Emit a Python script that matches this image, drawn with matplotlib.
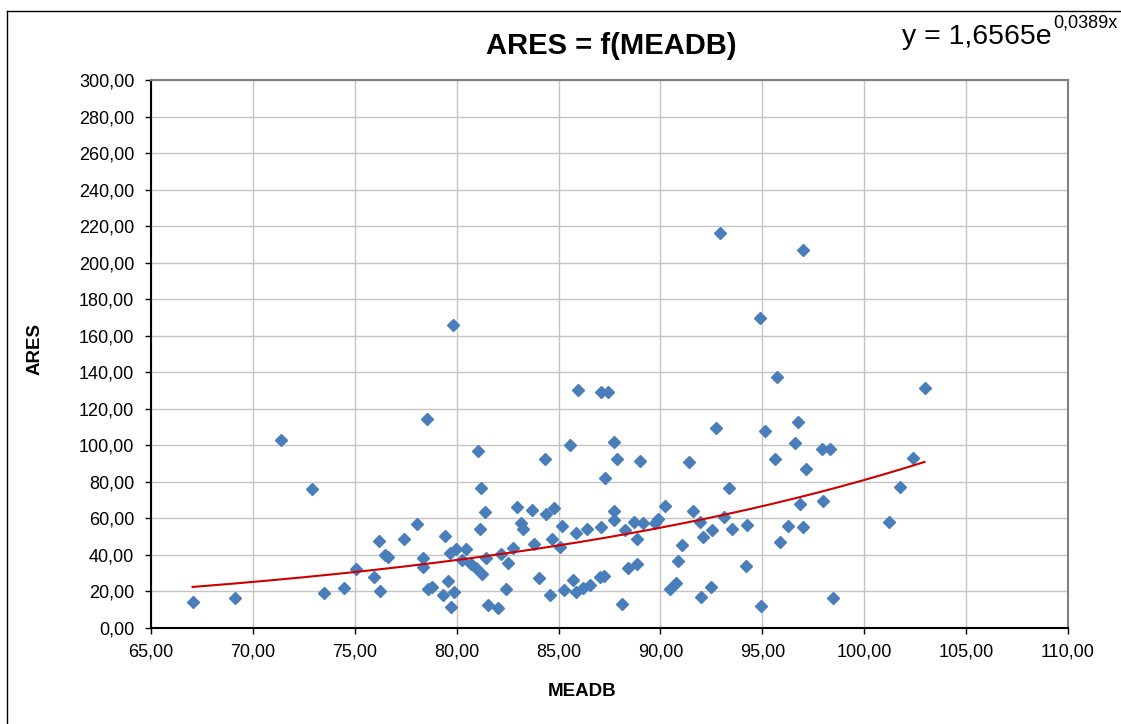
import matplotlib
matplotlib.use('Agg')
import matplotlib.pyplot as plt
import numpy as np
from matplotlib.ticker import FuncFormatter, MultipleLocator
from matplotlib.lines import Line2D

# ---- data ----
meadb = [67.04, 69.12, 71.40, 72.91, 73.48, 74.48, 75.05, 75.93, 76.26, 76.18,
         76.50, 76.62, 77.40, 78.04, 78.56, 78.35, 78.35, 78.60, 78.81,
         79.43, 79.56, 79.33, 79.89, 79.71, 79.66, 79.95, 80.44, 80.28, 80.72,
         80.96, 81.24, 81.45, 82.16, 82.52, 82.78, 83.81, 84.66, 85.06, 81.54,
         82.03, 82.44, 84.04, 84.56, 85.28, 85.70, 85.86, 86.19, 86.52, 87.01,
         87.21, 88.12, 88.42, 88.87, 90.47, 90.77, 91.98, 92.50, 81.13, 83.14,
         83.24, 85.16, 85.85, 86.40, 87.08, 87.70, 88.25, 88.69, 89.13, 89.75,
         89.90, 88.87, 91.96, 92.11, 92.51, 93.14, 93.53, 94.26, 91.08, 90.88,
         94.20, 81.41, 82.94, 83.68, 84.40, 84.77, 87.73, 90.21, 91.62, 81.19,
         93.37, 87.29, 81.04, 84.35, 85.56, 87.70, 87.89, 89.02, 91.41, 92.73,
         85.93, 87.06, 87.45,
         95.72, 102.96, 96.73, 95.15, 96.60, 97.92, 98.31, 95.60, 102.40, 97.16,
         101.75, 96.86, 97.97, 101.23, 96.27, 96.98, 95.85, 94.95, 98.48,
         92.93, 97.00, 79.84, 94.87]
ares = [14.1, 16.6, 102.9, 75.9, 19.0, 21.9, 32.1, 27.9, 20.3, 47.8,
        40.0, 38.9, 48.9, 56.8, 114.6, 38.2, 33.6, 21.2, 22.6,
        50.5, 25.9, 18.1, 19.5, 11.7, 40.9, 43.1, 43.1, 37.2, 34.9,
        32.7, 29.4, 38.2, 40.5, 35.4, 43.6, 46.1, 48.9, 44.2, 12.4,
        10.9, 21.5, 27.5, 18.1, 20.8, 26.1, 19.7, 21.7, 23.7, 27.9,
        28.5, 13.1, 32.7, 34.9, 21.3, 24.4, 17.1, 22.3, 54.2, 57.3,
        54.2, 56.0, 52.0, 54.2, 55.1, 59.1, 53.8, 58.2, 57.3, 57.3,
        59.8, 48.5, 57.9, 50.0, 53.5, 60.9, 54.0, 56.2, 45.6, 36.7,
        34.1, 63.3, 66.4, 64.4, 62.4, 65.5, 64.2, 66.8, 63.9, 76.8,
        76.8, 82.3, 96.7, 92.7, 100.2, 101.8, 92.5, 91.6, 91.0, 109.3,
        130.3, 129.0, 129.0,
        137.6, 131.2, 112.9, 108.0, 101.4, 98.0, 97.8, 92.7, 93.2, 87.2,
        77.3, 67.9, 69.7, 57.9, 55.8, 55.1, 47.2, 11.9, 16.6,
        216.0, 206.7, 166.0, 169.8]

trend_a = 1.6565
trend_b = 0.0389

title = "ARES = f(MEADB)"
xlabel = "MEADB"
ylabel = "ARES"
eq_main = "y = 1,6565e"
eq_sup = "0,0389x"

plt.rcParams['font.family'] = ['Liberation Sans', 'DejaVu Sans']

W, H = 1121, 724
fig = plt.figure(figsize=(W / 100, H / 100), dpi=100)
fig.patch.set_facecolor('white')

ax = fig.add_axes([151 / W, 1 - 628 / H, (1068 - 151) / W, (628 - 80) / H])

ax.plot(meadb, ares, linestyle='none', marker='D', ms=6.5,
        color='#4A7EBB', markeredgecolor='#4A7EBB', zorder=3)
xs = np.linspace(min(meadb), max(meadb), 300)
ax.plot(xs, trend_a * np.exp(trend_b * xs), color='#CC0000', lw=1.5, zorder=4)

ax.set_xlim(65, 110)
ax.set_ylim(0, 300)
ax.xaxis.set_major_locator(MultipleLocator(5))
ax.yaxis.set_major_locator(MultipleLocator(20))
fmt = FuncFormatter(lambda v, p: f"{v:.2f}".replace('.', ','))
ax.xaxis.set_major_formatter(fmt)
ax.yaxis.set_major_formatter(fmt)

ax.grid(True, color='#C4C4C4', lw=1.0, zorder=0)
ax.set_axisbelow(True)

for s in ['left', 'bottom']:
    ax.spines[s].set_color('black')
    ax.spines[s].set_linewidth(1.5)
for s in ['top', 'right']:
    ax.spines[s].set_color('#808080')
    ax.spines[s].set_linewidth(1.5)

ax.tick_params(axis='both', direction='out', length=4, width=1,
               color='black', labelsize=13, pad=8)
ax.tick_params(axis='x', pad=7)

fig.text(611 / W, 1 - 46 / H, title, ha='center', va='center',
         fontsize=21, fontweight='bold')
fig.text(582 / W, 1 - 691 / H, xlabel, ha='center', va='center',
         fontsize=13.5, fontweight='bold')
fig.text(35 / W, 1 - 349 / H, ylabel, ha='center', va='center',
         rotation=90, fontsize=13.5, fontweight='bold')

fig.text(902 / W, 1 - 44 / H, eq_main, ha='left', va='baseline', fontsize=20.5)
fig.text(1053 / W, 1 - 27 / H, eq_sup, ha='left', va='baseline', fontsize=13)

# outer chart border (left and top edges visible)
fig.add_artist(Line2D([7 / W, 7 / W], [0, 1 - 11 / H], transform=fig.transFigure,
                      color='black', lw=1.0))
fig.add_artist(Line2D([7 / W, 1], [1 - 11 / H, 1 - 11 / H], transform=fig.transFigure,
                      color='black', lw=1.0))

fig.savefig('out.png', dpi=100)
